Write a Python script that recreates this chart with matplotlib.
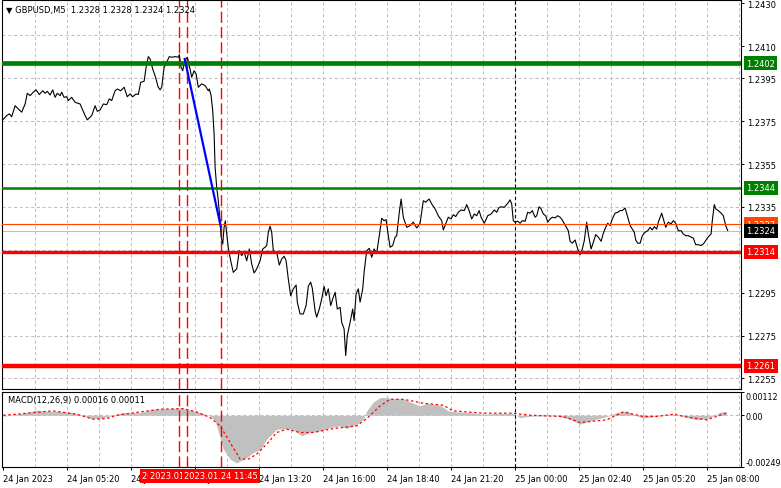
import matplotlib
matplotlib.use("Agg")
import matplotlib.pyplot as plt
import matplotlib.transforms as mtransforms

# GBPUSD M5, x = bar number (5 min bars) from the first bar on screen
price_t = [0.0, 2.0, 3.3, 4.5, 6.2, 7.8, 9.5, 11.2, 12.3, 13.7, 15.3, 16.7, 18.3, 20.0, 21.2, 22.3,
           23.7, 25.0, 26.2, 27.3, 28.7, 29.5, 30.7, 32.0, 32.8, 34.5, 36.2, 38.7, 41.2, 42.3, 44.5,
           46.2, 47.3, 48.7, 50.3, 52.0, 53.3, 54.5, 56.2, 57.3, 59.0, 60.7, 62.3, 63.7, 65.0, 66.7,
           67.8, 69.0, 70.7, 71.7, 72.8, 73.7, 75.0, 76.4, 77.7, 78.7, 79.5, 80.7, 82.0, 83.3, 84.5,
           86.2, 87.8, 88.3, 89.2, 90.0, 90.7, 91.7, 92.3, 93.3, 94.5, 95.7, 96.7, 97.8, 99.5, 101.2,
           102.8, 103.3, 104.2, 105.0, 105.7, 106.2, 107.0, 107.8, 108.7, 109.2, 110.0, 110.7, 111.3,
           112.0, 112.8, 114.0, 115.3, 117.0, 118.3, 119.5, 120.7, 122.0, 123.3, 124.5, 125.7, 127.0,
           128.7, 130.0, 131.2, 132.0, 132.8, 133.7, 134.5, 135.3, 137.0, 138.3, 139.5, 140.7, 141.7,
           142.8, 144.0, 145.3, 146.7, 147.3, 148.7, 150.3, 151.7, 152.8, 154.0, 154.8, 156.2, 157.0,
           158.3, 159.5, 160.7, 161.7, 162.8, 164.0, 165.0, 166.2, 167.3, 168.7, 169.5, 170.7, 171.5,
           172.3, 173.7, 175.0, 175.7, 176.7, 177.8, 178.7, 180.0, 180.7, 182.0, 183.3, 184.5, 185.7,
           187.0, 188.3, 189.5, 190.7, 191.7, 192.8, 193.7, 195.0, 196.2, 197.0, 198.3, 199.2, 200.3,
           202.0, 203.7, 205.3, 207.0, 208.7, 210.3, 211.5, 213.2, 214.5, 216.2, 217.8, 219.5, 220.3,
           221.5, 222.8, 224.2, 225.3, 226.5, 227.8, 229.2, 230.8, 232.0, 233.2, 234.5, 235.8, 237.0,
           238.2, 239.2, 240.8, 242.5, 244.2, 245.8, 247.0, 248.2, 249.5, 250.8, 252.5, 253.7, 254.5,
           255.3, 256.2, 257.5, 258.7, 259.8, 261.2, 262.5, 263.7, 264.8, 266.2, 267.0, 268.2, 269.2,
           270.3, 271.5, 272.5, 273.7, 274.8, 276.2, 277.5, 278.7, 279.8, 281.2, 282.8, 283.7, 284.8,
           286.2, 287.5, 288.7, 289.8, 290.8, 292.0, 292.8, 294.2, 295.3, 296.5, 297.8, 299.2, 300.3,
           301.5, 302.5, 303.7, 304.8, 306.2, 307.5, 308.7, 309.8, 311.2, 312.5, 313.7, 314.8, 315.8,
           316.5, 317.5, 318.7, 319.8, 321.2, 322.5, 323.7, 324.8, 325.8, 327.0, 327.8, 328.7, 329.5,
           330.3, 331.5, 332.8, 334.2, 335.3, 336.5, 337.8, 339.2, 340.3, 341.5, 342.8, 344.2, 345.3,
           346.5, 347.8, 349.2, 350.3, 351.5, 352.8, 354.2, 354.8, 355.8, 356.5, 357.8, 359.2, 360.3,
           361.5, 362.5]
price_v = [1.23756, 1.23776, 1.23784, 1.23771, 1.23822, 1.23807, 1.23792, 1.23830, 1.23880, 1.23869,
           1.23885, 1.23896, 1.23874, 1.23892, 1.23880, 1.23889, 1.23872, 1.23896, 1.23861, 1.23880,
           1.23869, 1.23885, 1.23861, 1.23864, 1.23846, 1.23861, 1.23838, 1.23830, 1.23776, 1.23756,
           1.23776, 1.23822, 1.23796, 1.23802, 1.23830, 1.23827, 1.23854, 1.23846, 1.23892, 1.23900,
           1.23892, 1.23908, 1.23864, 1.23877, 1.23864, 1.23877, 1.23874, 1.23931, 1.23936, 1.24001,
           1.24051, 1.24040, 1.23993, 1.23956, 1.23910, 1.23896, 1.23908, 1.24001, 1.24025, 1.24051,
           1.24048, 1.24051, 1.24048, 1.24060, 1.24001, 1.23985, 1.24017, 1.24040, 1.24048, 1.24009,
           1.23955, 1.23985, 1.23970, 1.23908, 1.23924, 1.23916, 1.23892, 1.23900, 1.23869, 1.23799,
           1.23690, 1.23535, 1.23442, 1.23379, 1.23286, 1.23211, 1.23177, 1.23255, 1.23285, 1.23224,
           1.23159, 1.23099, 1.23045, 1.23061, 1.23146, 1.23123, 1.23141, 1.23099, 1.23154, 1.23084,
           1.23042, 1.23061, 1.23099, 1.23154, 1.23162, 1.23170, 1.23232, 1.23260, 1.23232, 1.23146,
           1.23139, 1.23079, 1.23107, 1.23120, 1.23099, 1.23014, 1.22936, 1.22968, 1.22986, 1.22906,
           1.22851, 1.22851, 1.22890, 1.22980, 1.22999, 1.22971, 1.22866, 1.22836, 1.22874, 1.22921,
           1.22980, 1.22936, 1.22968, 1.22890, 1.22921, 1.22952, 1.22874, 1.22882, 1.22812, 1.22781,
           1.22657, 1.22750, 1.22812, 1.22874, 1.22820, 1.22944, 1.22968, 1.22906, 1.22968, 1.23045,
           1.23146, 1.23157, 1.23115, 1.23154, 1.23135, 1.23216, 1.23297, 1.23286, 1.23291, 1.23216,
           1.23162, 1.23170, 1.23209, 1.23216, 1.23325, 1.23387, 1.23302, 1.23255, 1.23263, 1.23279,
           1.23252, 1.23274, 1.23379, 1.23372, 1.23387, 1.23364, 1.23341, 1.23309, 1.23286, 1.23243,
           1.23271, 1.23302, 1.23294, 1.23314, 1.23305, 1.23325, 1.23336, 1.23333, 1.23361, 1.23333,
           1.23294, 1.23317, 1.23309, 1.23333, 1.23302, 1.23274, 1.23309, 1.23317, 1.23336, 1.23325,
           1.23348, 1.23351, 1.23348, 1.23367, 1.23383, 1.23364, 1.23286, 1.23279, 1.23283, 1.23274,
           1.23286, 1.23283, 1.23325, 1.23321, 1.23333, 1.23302, 1.23309, 1.23351, 1.23341, 1.23317,
           1.23309, 1.23279, 1.23294, 1.23302, 1.23299, 1.23309, 1.23302, 1.23289, 1.23265, 1.23239,
           1.23190, 1.23181, 1.23196, 1.23154, 1.23127, 1.23154, 1.23193, 1.23279, 1.23224, 1.23154,
           1.23185, 1.23221, 1.23209, 1.23190, 1.23227, 1.23255, 1.23274, 1.23263, 1.23294, 1.23321,
           1.23325, 1.23333, 1.23333, 1.23345, 1.23302, 1.23263, 1.23247, 1.23232, 1.23196, 1.23181,
           1.23181, 1.23216, 1.23232, 1.23239, 1.23255, 1.23243, 1.23258, 1.23247, 1.23279, 1.23302,
           1.23321, 1.23294, 1.23255, 1.23279, 1.23271, 1.23286, 1.23274, 1.23239, 1.23239, 1.23224,
           1.23216, 1.23216, 1.23209, 1.23205, 1.23174, 1.23174, 1.23170, 1.23177, 1.23193, 1.23211,
           1.23224, 1.23286, 1.23361, 1.23341, 1.23333, 1.23321, 1.23309, 1.23263, 1.23240]

macd_t = [0.3, 7.0, 13.7, 17.0, 20.3, 28.7, 35.3, 40.3, 43.7, 48.7, 53.7, 60.3, 68.7, 75.3, 82.0,
          88.7, 93.7, 98.7, 103.7, 106.2, 108.7, 110.3, 113.7, 117.0, 122.0, 125.3, 128.7, 132.0,
          137.0, 142.0, 145.3, 149.5, 153.7, 158.7, 163.7, 168.7, 172.0, 177.0, 180.3, 182.0, 185.3,
          188.7, 192.8, 193.7, 200.3, 203.7, 208.7, 212.0, 218.7, 222.8, 227.0, 233.7, 240.3, 248.7,
          255.3, 258.7, 265.3, 277.0, 283.7, 288.7, 293.7, 302.0, 307.0, 312.0, 317.0, 320.3, 327.0,
          335.3, 340.3, 347.0, 352.0, 356.2, 358.7, 362.0]
macd_v = [-0.00005, 0.00005, 0.00016, 0.00025, 0.00020, 0.00018, 0.00013, 0.0, -0.00016, -0.00016,
          -0.00003, 0.00013, 0.00013, 0.00029, 0.00032, 0.00035, 0.00025, 0.00013, -0.00003, -0.00027,
          -0.00107, -0.00163, -0.00211, -0.00230, -0.00203, -0.00179, -0.00166, -0.00115, -0.00067,
          -0.00064, -0.00070, -0.00099, -0.00083, -0.00075, -0.00059, -0.00051, -0.00064, -0.00043,
          -0.00019, 0.00021, 0.00064, 0.00085, 0.00085, 0.00080, 0.00080, 0.00064, 0.00045, 0.00058,
          0.00048, 0.00021, 0.00016, 0.00013, 0.00005, 0.00010, 0.00008, -0.00011, -0.00003, -0.00003,
          -0.00019, -0.00043, -0.00027, -0.00006, 0.00013, 0.00021, -0.00003, -0.00014, -0.00003,
          0.00005, -0.00006, -0.00022, -0.00016, 0.0, 0.00016, 0.00016]

signal_t = [0.3, 7.0, 15.3, 25.3, 37.0, 45.3, 52.0, 57.0, 68.7, 78.7, 90.3, 97.0, 103.7, 108.7,
            113.7, 118.7, 122.8, 127.0, 132.0, 137.0, 142.0, 148.7, 155.3, 165.3, 177.0, 182.0,
            188.7, 193.7, 200.3, 210.3, 220.3, 225.3, 240.3, 255.3, 263.7, 280.3, 288.7, 302.0,
            310.3, 320.3, 327.0, 335.3, 343.7, 352.0, 362.0]
signal_v = [0.0, 0.00005, 0.00013, 0.00021, 0.00005, -0.00019, -0.00016, 0.0, 0.00016, 0.00029,
            0.00032, 0.00016, -0.00011, -0.00051, -0.00131, -0.00211, -0.00211, -0.00187, -0.00139,
            -0.00083, -0.00067, -0.00083, -0.00083, -0.00064, -0.00051, -0.00016, 0.00045, 0.00077,
            0.00077, 0.00058, 0.00048, 0.00021, 0.00010, 0.00010, 0.0, -0.00006, -0.00035, -0.00022,
            0.00016, -0.00006, -0.00006, 0.00005, -0.00011, -0.00022, 0.00011]

level_prices = [1.2402, 1.2344, 1.2327, 1.2314, 1.2261]
bid_price = 1.2324
signal_bars = [88, 92, 109]
signal_labels = ["2023.01.24 10:00", "2023.01.24 10:20", "2023.01.24 11:45"]
arrow_t = [91, 109]
arrow_v = [1.2404, 1.2326]
day_sep = 256

price_ticks = [1.2430, 1.2410, 1.2395, 1.2375, 1.2355, 1.2335, 1.2295, 1.2275, 1.2255]
grid_prices = [1.2255, 1.2275, 1.2295, 1.2315, 1.2335, 1.2355, 1.2375, 1.2395, 1.2415]
time_ticks = list(range(0, 353, 32))
time_labels = ["24 Jan 2023", "24 Jan 05:20", "24 Jan 08:00", "24 Jan 10:40", "24 Jan 13:20",
               "24 Jan 16:00", "24 Jan 18:40", "24 Jan 21:20", "25 Jan 00:00", "25 Jan 02:40",
               "25 Jan 05:20", "25 Jan 08:00"]
macd_ticks = [0.00112, 0.0, -0.00249]
macd_tick_labels = ["0.00112", "0.00", "-0.00249"]

W, H = 781, 489
fig = plt.figure(figsize=(W / 100, H / 100), dpi=100)
fig.patch.set_facecolor("white")
plt.rcParams["font.size"] = 6

def px_box(x0, y0, x1, y1):
    return [x0 / W, 1 - y1 / H, (x1 - x0) / W, (y1 - y0) / H]

ax = fig.add_axes(px_box(1.5, 1, 740.5, 390))
mx = fig.add_axes(px_box(1.5, 393, 740.5, 468), sharex=ax)

grid_kw = dict(color="#c0c0c0", lw=0.75, ls=(0, (3, 2.5)), zorder=0)
for a in (ax, mx):
    for t in range(16, 369, 16):
        a.axvline(t, **grid_kw)
for p in grid_prices:
    ax.axhline(p, **grid_kw)
mx.axhline(0, **grid_kw)

# vertical markers
for a in (ax, mx):
    for b in signal_bars:
        a.axvline(b, color="#ff0000", lw=1.0, ls=(0, (8, 3)), zorder=2)
    a.axvline(day_sep, color="black", lw=0.8, ls=(0, (3, 2.5)), zorder=2)

ax.axhline(bid_price, color="#c0c0c0", lw=0.8, zorder=1)
ax.plot(price_t, price_v, color="black", lw=0.8, zorder=3)

lvl_colors = ["#008000", "#008000", "#ff4500", "#ff0000", "#ff0000"]
lvl_widths = [3.4, 1.8, 0.8, 2.4, 3.2]
for p, c, w in zip(level_prices, lvl_colors, lvl_widths):
    ax.axhline(p, color=c, lw=w, zorder=4)

ax.plot(arrow_t, arrow_v, color="#0000ff", lw=1.6, zorder=5)

ax.set_xlim(-0.6, 368.9)
ax.set_ylim(1.22501, 1.24315)
ax.yaxis.tick_right()
ax.set_yticks(price_ticks)
ax.set_yticklabels([f"{p:.4f}" for p in price_ticks])
ax.tick_params(axis="y", length=2.5, width=0.7, pad=2.5, labelsize=6)
ax.tick_params(axis="x", bottom=False, labelbottom=False)

# price labels on the scale
blend = mtransforms.blended_transform_factory(ax.transAxes, ax.transData)
box_colors = ["#008000", "#008000", "#ff4500", "black", "#ff0000", "#ff0000"]
box_prices = level_prices[:3] + [bid_price] + level_prices[3:]
for p, c in zip(box_prices, box_colors):
    ax.text(1.0075, p, f"{p:.4f}", transform=blend, ha="left", va="center", color="white",
            fontsize=6, bbox=dict(boxstyle="square,pad=0.3", fc=c, ec="none"), zorder=10)

fig.text(6 / W, 1 - 10 / H, "\u25bc GBPUSD,M5  1.2328 1.2328 1.2324 1.2324",
         fontsize=6, va="center", ha="left")

# MACD subwindow
mx.fill_between(macd_t, 0, macd_v, color="#c0c0c0", lw=0, zorder=1)
mx.plot(signal_t, signal_v, color="red", lw=0.9, ls=(0, (2, 2)), zorder=3)
mx.set_ylim(-0.00249, 0.00112)
mx.yaxis.tick_right()
mx.set_yticks(macd_ticks)
mx.set_yticklabels(macd_tick_labels)
mx.tick_params(axis="y", length=2, width=0.7, pad=1.5, labelsize=5.8)
ylab = mx.get_yticklabels()
ylab[0].set_va("top")
ylab[2].set_va("bottom")
mx.set_xticks(time_ticks)
mx.set_xticklabels(time_labels)
mx.tick_params(axis="x", length=2.5, width=0.7, pad=2.5, labelsize=6)
for lab in mx.get_xticklabels():
    lab.set_ha("left")
mx.text(6 / 739, 0.9, "MACD(12,26,9) 0.00016 0.00011", transform=mx.transAxes,
        fontsize=6, va="center", ha="left")

xblend = mtransforms.blended_transform_factory(mx.transData, mx.transAxes)
for b, s in zip(signal_bars, signal_labels):
    mx.text(b, -0.12, s, transform=xblend, ha="center", va="center", color="white",
            fontsize=6, bbox=dict(boxstyle="square,pad=0.25", fc="#ff0000", ec="none"),
            zorder=10, clip_on=False)

for a in (ax, mx):
    for s in a.spines.values():
        s.set_linewidth(0.8)

fig.savefig("out.png", dpi=100)
